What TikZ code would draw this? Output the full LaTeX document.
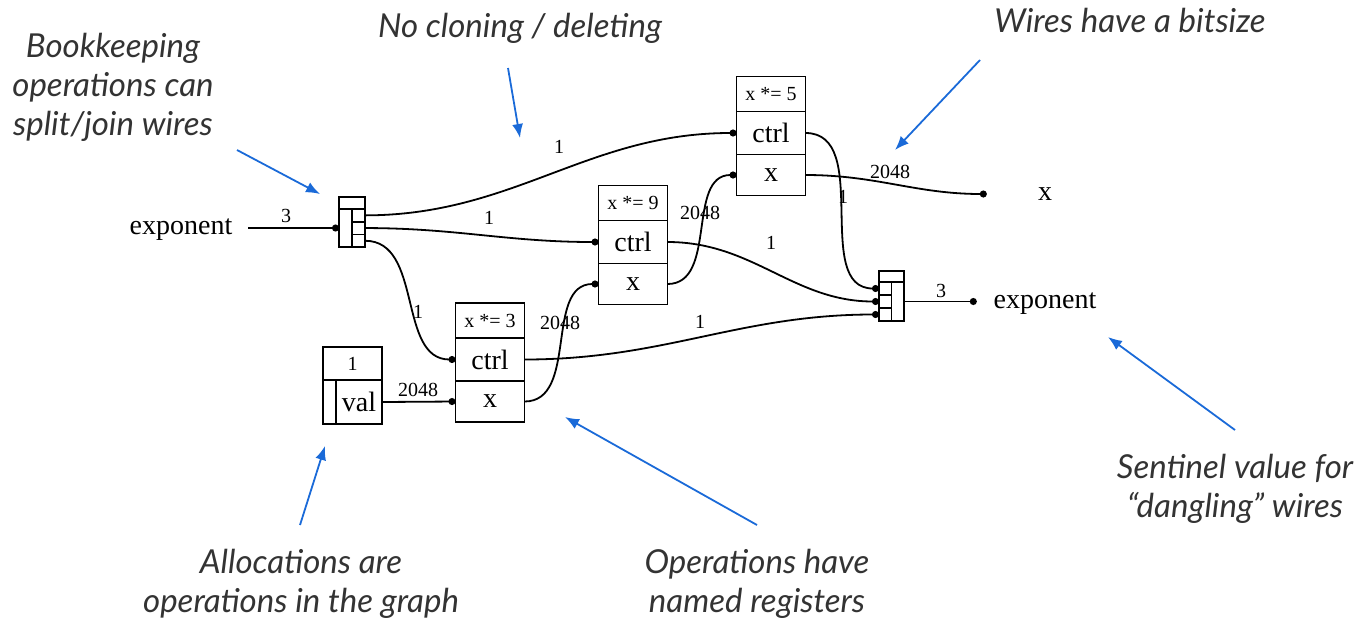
\documentclass[tikz,border=0pt]{standalone}
\usepackage{fontspec}
\setmainfont{Liberation Serif}
\newfontfamily\notefont{Lato}
\usetikzlibrary{positioning,arrows.meta}
\definecolor{noteblue}{HTML}{1A6AD8}

\begin{document}
\begin{tikzpicture}[x=1pt, y=-1pt,
  cell/.style={draw, line width=1.8pt, inner sep=0pt, outer sep=0pt},
  reg/.style={cell, minimum width=69pt, font=\fontsize{28}{28}\selectfont},
  op/.style={cell, minimum width=69pt, minimum height=35pt, font=\fontsize{20}{20}\selectfont},
  wire/.style={line width=1.8pt, -{Circle[length=7pt]}},
  wlabel/.style={inner sep=0pt, font=\fontsize{20}{20}\selectfont},
  port/.style={inner sep=0pt, text height=13pt, text depth=0pt, font=\fontsize{28}{28}\selectfont},
  note/.style={inner sep=0pt, align=center, text=black!80, font=\notefont\itshape\fontsize{33}{39}\selectfont},
  pointer/.style={draw=noteblue, line width=1.8pt, -{Latex[length=14pt, width=11pt]}}]

\useasboundingbox (0,0) rectangle (1365,622);

\node[op] (10) at (490,320.5) {x *= 3};
\node[reg, minimum height=43pt, below=0pt of 10] (11) {ctrl};
\node[reg, minimum height=41pt, below=0pt of 11] (12) {x};

\node[op] (20) at (633,203) {x *= 9};
\node[reg, minimum height=43pt, below=0pt of 20] (21) {ctrl};
\node[reg, minimum height=41pt, below=0pt of 21] (22) {x};

\node[op] (30) at (771,94) {x *= 5};
\node[reg, minimum height=43pt, below=0pt of 30] (31) {ctrl};
\node[reg, minimum height=41pt, below=0pt of 31] (32) {x};

\node[cell, minimum width=26pt, minimum height=12pt, anchor=north west] (40) at (339,197) {};
\node[cell, minimum width=13pt, minimum height=38pt, anchor=north west] (41) at (40.south west) {};
\node[cell, minimum width=13pt, minimum height=12.7pt, anchor=north west] (42) at (41.north east) {};
\node[cell, minimum width=13pt, minimum height=12.7pt, anchor=north west] (43) at (42.south west) {};
\node[cell, minimum width=13pt, minimum height=12.7pt, anchor=north west] (44) at (43.south west) {};

\node[cell, minimum width=25pt, minimum height=11pt, anchor=north west] (50) at (879,271) {};
\node[cell, minimum width=12.5pt, minimum height=13pt, anchor=north west] (51) at (50.south west) {};
\node[cell, minimum width=12.5pt, minimum height=13pt, anchor=north west] (52) at (51.south west) {};
\node[cell, minimum width=12.5pt, minimum height=13pt, anchor=north west] (53) at (52.south west) {};
\node[cell, minimum width=12.5pt, minimum height=39pt, anchor=north west] (54) at (51.north east) {};

\node[cell, minimum width=59pt, minimum height=33pt, anchor=north west, font=\fontsize{20}{20}\selectfont] (60) at (323,347) {1};
\node[cell, minimum width=13pt, minimum height=44pt, anchor=north west] (61) at (60.south west) {};
\node[reg, minimum width=46pt, minimum height=44pt, anchor=north west] (62) at (61.north east) {val};

\node[port, minimum width=134pt] (70) at (181,228) {exponent};
\node[port, minimum width=116pt] (71) at (1045,194) {x};
\node[port, minimum width=136pt] (72) at (1045,301.5) {exponent};

\draw[wire] (70.east) -- (41.west);
\draw[wire] (42.east) to[out=0, in=180] (31.west);
\draw[wire] (43.east) to[out=0, in=180] (21.west);
\draw[wire] (44.east) to[out=0, in=180] (11.west);
\draw[wire] (62.east) -- (12.west);
\draw[wire] (12.east) to[out=0, in=180] (22.west);
\draw[wire] (11.east) to[out=0, in=180] (53.west);
\draw[wire] (21.east) to[out=0, in=180] (52.west);
\draw[wire] (22.east) to[out=0, in=180] (32.west);
\draw[wire] (31.east) to[out=0, in=180] (51.west);
\draw[wire] (32.east) to[out=0, in=180] (71.west);
\draw[wire] (54.east) -- (72.west);

\node[wlabel] (80) at (286,216) {3};
\node[wlabel] (81) at (559,147) {1};
\node[wlabel] (82) at (489,218) {1};
\node[wlabel] (83) at (418,312) {1};
\node[wlabel] (84) at (418,390) {2048};
\node[wlabel] (85) at (560,323) {2048};
\node[wlabel] (86) at (700,322) {1};
\node[wlabel] (87) at (771,243) {1};
\node[wlabel] (88) at (700,213) {2048};
\node[wlabel] (89) at (843,197) {1};
\node[wlabel] (90) at (890,172) {2048};
\node[wlabel] (91) at (941,291) {3};

\node[note] (100) at (113,87) {Bookkeeping\\operations can\\split/join wires};
\node[note] (101) at (520,28) {No cloning / deleting};
\node[note] (102) at (1130,20) {Wires have a bitsize};
\node[note] (103) at (301,584) {Allocations are\\operations in the graph};
\node[note] (104) at (757,584) {Operations have\\named registers};
\node[note] (105) at (1235,489) {Sentinel value for\\“dangling” wires};

\coordinate (110) at (237,150);
\coordinate (111) at (320,194);
\coordinate (112) at (508,68);
\coordinate (113) at (520,138);
\coordinate (114) at (980,60);
\coordinate (115) at (895,150);
\coordinate (116) at (300,525);
\coordinate (117) at (325,446);
\coordinate (118) at (757,525);
\coordinate (119) at (565,417);
\coordinate (120) at (1235,430);
\coordinate (121) at (1108,337);

\draw[pointer] (110) -- (111);
\draw[pointer] (112) -- (113);
\draw[pointer] (114) -- (115);
\draw[pointer] (116) -- (117);
\draw[pointer] (118) -- (119);
\draw[pointer] (120) -- (121);
\end{tikzpicture}
\end{document}
